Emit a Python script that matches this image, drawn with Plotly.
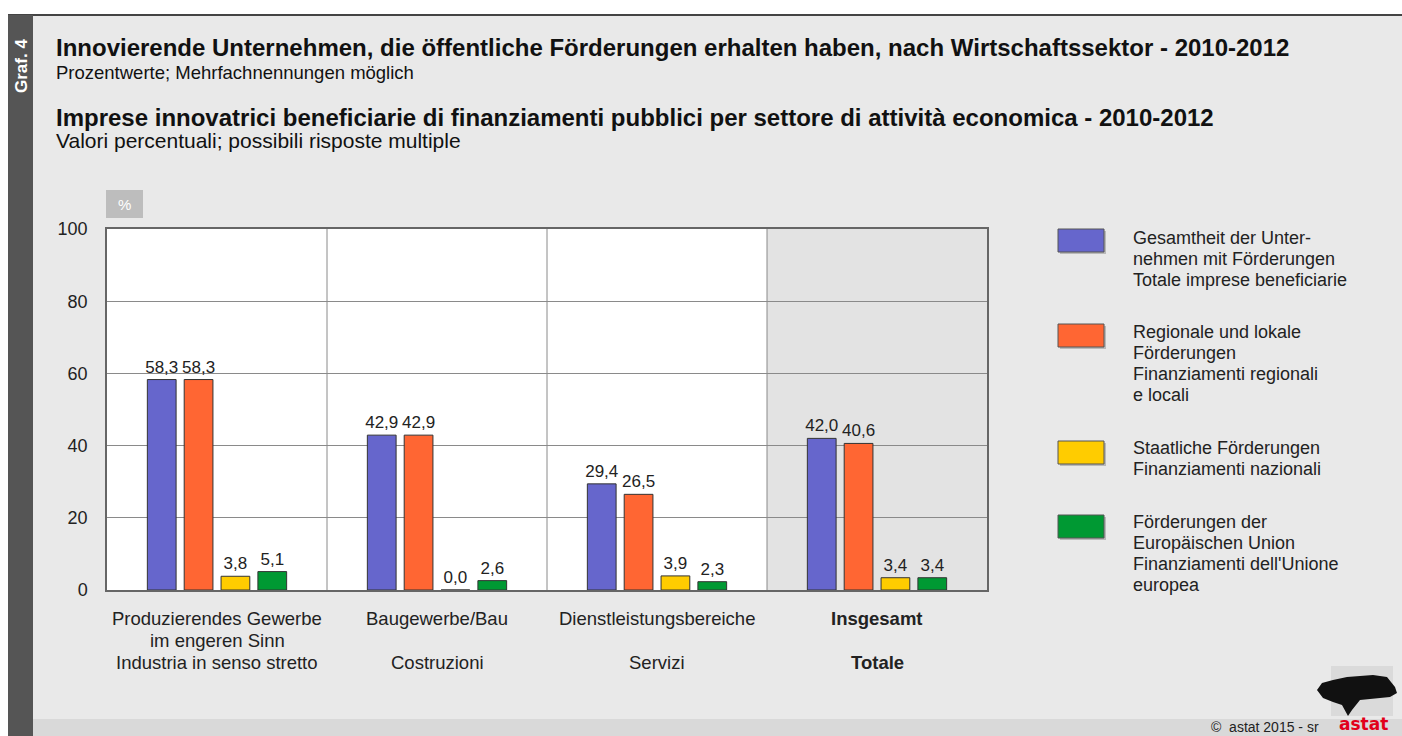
import plotly.graph_objects as go

# data
categories = [
    ["Produzierendes Gewerbe", "im engeren Sinn", "Industria in senso stretto"],
    ["Baugewerbe/Bau", "", "Costruzioni"],
    ["Dienstleistungsbereiche", "", "Servizi"],
    ["<b>Insgesamt</b>", "", "<b>Totale</b>"],
]
series_names = [
    ["Gesamtheit der Unter-", "nehmen mit Förderungen", "Totale imprese beneficiarie"],
    ["Regionale und lokale", "Förderungen", "Finanziamenti regionali", "e locali"],
    ["Staatliche Förderungen", "Finanziamenti nazionali"],
    ["Förderungen der", "Europäischen Union", "Finanziamenti dell'Unione", "europea"],
]
totale = [58.3, 42.9, 29.4, 42.0]
regionale = [58.3, 42.9, 26.5, 40.6]
nazionali = [3.8, 0.0, 3.9, 3.4]
europei = [5.1, 2.6, 2.3, 3.4]
colors = ["#6666cc", "#ff6633", "#ffcc00", "#009933"]
y_ticks = [0, 20, 40, 60, 80, 100]

W, H = 1402, 736
FONT = "Liberation Sans, Arial, sans-serif"


def px_x(x):
    return x / W


def px_y(y):
    return 1 - y / H


fig = go.Figure()

for name, vals, col in zip(series_names, [totale, regionale, nazionali, europei], colors):
    fig.add_trace(
        go.Bar(
            x=list(range(len(categories))),
            y=vals,
            name=" ".join(name),
            marker=dict(color=col, line=dict(color="#333333", width=1)),
            texttemplate="%{y:.1f}",
            textposition="outside",
            constraintext="none",
            textfont=dict(size=17, color="#222222", family=FONT),
            cliponaxis=False,
        )
    )

shapes = [
    # bottom strip
    dict(type="rect", xref="paper", yref="paper", x0=0, x1=1, y0=px_y(736), y1=px_y(719),
         fillcolor="#d9d9d9", line_width=0, layer="below"),
    # white top band and left margin
    dict(type="rect", xref="paper", yref="paper", x0=0, x1=1, y0=px_y(15), y1=1,
         fillcolor="white", line_width=0, layer="below"),
    dict(type="rect", xref="paper", yref="paper", x0=0, x1=px_x(8), y0=0, y1=1,
         fillcolor="white", line_width=0, layer="below"),
    # top line
    dict(type="line", xref="paper", yref="paper", x0=px_x(8), x1=1, y0=px_y(15), y1=px_y(15),
         line=dict(color="#444444", width=2), layer="below"),
    # dark left stripe
    dict(type="rect", xref="paper", yref="paper", x0=px_x(8), x1=px_x(33), y0=0, y1=px_y(15),
         fillcolor="#555555", line_width=0, layer="below"),
    # totals background
    dict(type="rect", xref="x", yref="y domain", x0=2.5, x1=3.5, y0=0, y1=1,
         fillcolor="#e3e3e3", line_width=0, layer="below"),
    # % box
    dict(type="rect", xref="paper", yref="paper", x0=px_x(106), x1=px_x(143), y0=px_y(218), y1=px_y(190),
         fillcolor="#bdbdbd", line_width=0, layer="below"),
]
for xv in [0.5, 1.5, 2.5]:
    shapes.append(dict(type="line", xref="x", yref="y domain", x0=xv, x1=xv, y0=0, y1=1,
                       line=dict(color="#8a8a8a", width=1), layer="below"))

# legend swatches
legend_tops = [229, 324, 441, 515]
legend_first_line = [238, 332, 448, 522]
for top, col in zip(legend_tops, colors):
    shapes.append(dict(type="rect", xref="paper", yref="paper",
                       x0=px_x(1060), x1=px_x(1106), y0=px_y(top + 25), y1=px_y(top + 2),
                       fillcolor="#999999", line_width=0, opacity=0.6))
    shapes.append(dict(type="rect", xref="paper", yref="paper",
                       x0=px_x(1058), x1=px_x(1104), y0=px_y(top + 23), y1=px_y(top),
                       fillcolor=col, line=dict(color="#555555", width=1)))

# logo: halftone area + map blob
shapes.append(dict(type="rect", xref="paper", yref="paper", x0=px_x(1331), x1=px_x(1393),
                   y0=px_y(716), y1=px_y(666), fillcolor="#d6d6d6", line_width=0, opacity=0.8))
shapes.append(dict(type="path", xref="paper", yref="paper",
                   path="M " + " L ".join(f"{px_x(a):.5f},{px_y(b):.5f}" for a, b in [
                       (1317, 690), (1322, 683), (1333, 680), (1347, 677), (1373, 675), (1387, 677),
                       (1395, 687), (1397, 693), (1390, 697), (1380, 698), (1360, 700), (1352, 710),
                       (1348, 716), (1342, 705), (1333, 702), (1323, 698)]) + " Z",
                   fillcolor="#111111", line_width=0))

annotations = [
    dict(text="<b>Graf. 4</b>", x=px_x(21), y=px_y(66), textangle=-90, font=dict(size=17, color="white")),
    dict(text="<b>Innovierende Unternehmen, die öffentliche Förderungen erhalten haben, nach Wirtschaftssektor - 2010-2012</b>",
         x=px_x(54), y=px_y(47), xanchor="left", font=dict(size=24, color="#111111")),
    dict(text="Prozentwerte; Mehrfachnennungen möglich",
         x=px_x(54), y=px_y(72), xanchor="left", font=dict(size=18.5, color="#111111")),
    dict(text="<b>Imprese innovatrici beneficiarie di finanziamenti pubblici per settore di attività economica - 2010-2012</b>",
         x=px_x(54), y=px_y(117), xanchor="left", font=dict(size=24, color="#111111")),
    dict(text="Valori percentuali; possibili risposte multiple",
         x=px_x(54), y=px_y(140), xanchor="left", font=dict(size=21, color="#111111")),
    dict(text="%", x=px_x(124.5), y=px_y(204), font=dict(size=15, color="white")),
    dict(text="©&nbsp; astat 2015 - sr", x=px_x(1321), y=px_y(727), xanchor="right",
         font=dict(size=14, color="#222222")),
    dict(text="<b>astat</b>", x=px_x(1363), y=px_y(724),
         font=dict(size=17, color="#e2001a", family="DejaVu Sans, sans-serif")),
]
# legend text, one annotation per line
for first, lines in zip(legend_first_line, series_names):
    for i, line in enumerate(lines):
        annotations.append(dict(text=line, x=px_x(1131), y=px_y(first + i * 21), xanchor="left",
                                font=dict(size=18, color="#222222")))
# category labels under the axis
for i, lines in enumerate(categories):
    for j, line in enumerate(lines):
        if line:
            annotations.append(dict(text=line, x=i, xref="x", y=px_y(618 + j * 22),
                                    font=dict(size=18.5, color="#222222")))
for a in annotations:
    a.setdefault("xref", "paper")
    a.setdefault("yref", "paper")
    a.setdefault("showarrow", False)
    a.setdefault("xanchor", "center")
    a.setdefault("yanchor", "middle")

fig.update_layout(
    width=W,
    height=H,
    margin=dict(l=0, r=0, t=0, b=0, pad=0),
    paper_bgcolor="#e9e9e9",
    plot_bgcolor="white",
    font=dict(family=FONT, size=18, color="#222222"),
    separators=",.",
    barmode="group",
    bargap=0.33,
    bargroupgap=0.22,
    showlegend=False,
    shapes=shapes,
    annotations=annotations,
)
fig.update_xaxes(
    domain=[px_x(107), px_x(987)],
    range=[-0.5, 3.5],
    tickvals=list(range(len(categories))),
    showticklabels=False,
    showgrid=False,
    zeroline=False,
    showline=True,
    mirror=True,
    linecolor="#666666",
    linewidth=1.5,
    ticks="",
    automargin=False,
)
fig.update_yaxes(
    domain=[px_y(590), px_y(229)],
    range=[0, 100],
    tickvals=y_ticks,
    tickfont=dict(size=18, color="#222222"),
    showgrid=True,
    gridcolor="#8a8a8a",
    gridwidth=1,
    zeroline=False,
    showline=True,
    mirror=True,
    linecolor="#666666",
    linewidth=1.5,
    ticks="",
    ticklabelstandoff=14,
    automargin=False,
)

fig.write_html(
    "out.html",
    config={"displayModeBar": False},
    post_script="document.body.style.margin='0';document.body.style.overflow='hidden';",
)
